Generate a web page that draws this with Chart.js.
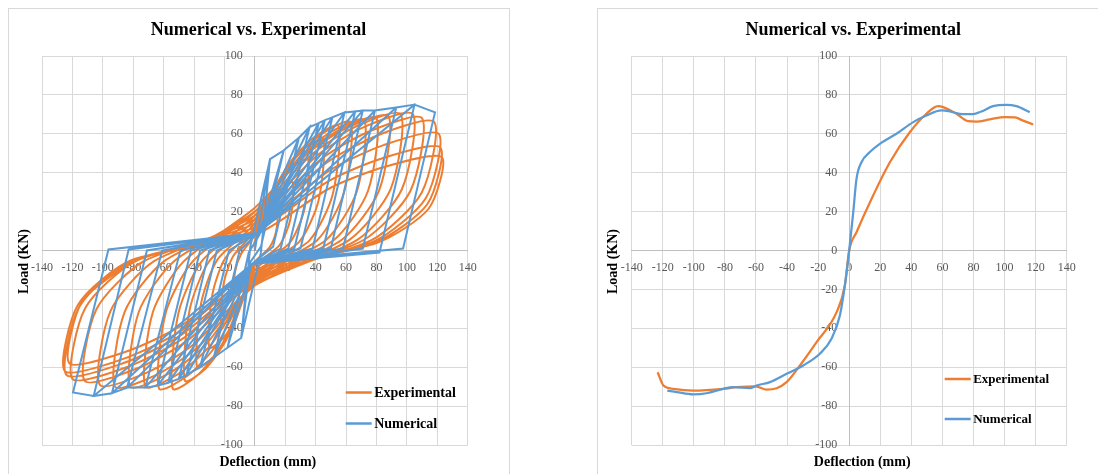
<!DOCTYPE html>
<html>
<head>
<meta charset="utf-8">
<title>Numerical vs. Experimental</title>
<script src="https://cdn.jsdelivr.net/npm/chart.js@4.4.1/dist/chart.umd.min.js"></script>
<style>
  body { margin: 0; background: #fff; width: 1098px; height: 474px; overflow: hidden; position: relative; }
  .frame { position: absolute; top: 8px; height: 500px; border: 1px solid #d9d9d9; box-sizing: border-box; }
  .box { position: absolute; top: 0; width: 549px; height: 474px; }
</style>
</head>
<body>
<div class="frame" style="left:8px;width:502px"></div>
<div class="frame" style="left:597px;width:520px"></div>
<div class="box" style="left:0"><canvas id="hysteresis"></canvas></div>
<div class="box" style="left:549px"><canvas id="envelope"></canvas></div>

<script>
// --- data: [deflection mm, load kN] ---
const xTicks = { min: -140, max: 140, step: 20 };
const yTicks = { min: -100, max: 100, step: 20 };
const seriesNames = ["Experimental", "Numerical"];

// numerical hysteresis (piecewise linear model)
const numHysteresis = [
  [0,0],[10,47],[-3,2],[-9,-45],[4,-1],
  [10,47],[19,51.5],[4,2],[-3,-6],[-9,-45],[-18,-50],[-4,-1],[3,8],
  [19,51.5],[29,58],[12,2],[-2,-7],[-18,-50],[-27,-55],[-10,0],[2,9],
  [29,58],[36,63.5],[17,1],[-2,-7],[-27,-55],[-36,-60],[-17,0],[2,9],
  [36,63.5],[42,65.5],[22,1],[-2,-7],[-36,-60],[-45,-64],[-25,0],[2,9],
  [42,65.5],[46,67],[26,1],[-2,-7],[-45,-64],[-50,-66],[-30,0],[2,9],
  [46,67],[51,68.5],[30,1],[-2,-7],[-50,-66],[-57,-68],[-36,0],[2,9],
  [51,68.5],[59,71],[38,1],[-2,-7],[-57,-68],[-64,-69.5],[-42,0],[2,9],
  [59,71],[66,71.5],[45,1],[-2,-7],[-64,-69.5],[-72,-70.5],[-49,0],[2,9],
  [66,71.5],[71,72],[50,1],[-2,-7],[-72,-70.5],[-84,-70.5],[-61,0],[2,9],
  [71,72],[79,72],[58,1],[-2,-7],[-84,-70.5],[-94,-73.4],[-71,0],[2,9],
  [79,72],[93,73.5],[71,1],[-2,-7],[-94,-73.4],[-106,-74.8],[-83,0.5],[2,9],
  [93,73.5],[105,75],[82,-1],[-2,-7],[-106,-74.8],[-119.6,-73],[-96.3,0.5],[2,9],
  [105,75],[118.5,71],[97.5,1],[0,-6]
];

// experimental hysteresis (test loops)
const expHysteresis = [
  [0,0],
  [0,5],[6,15.2],[10.5,20],[15,22],[14,9.9],[9.8,1.8],[0,-6],[-5.6,-16.8],[-9.8,-21.8],[-14,-24],[-13,-10.8],[-9.1,-1.9],
  [0,8],[10,24.2],[17.5,31.8],[25,35],[23.3,15.8],[16.3,2.8],[0,-8],[-8.8,-26],[-15.4,-34.4],[-22,-38],[-20.5,-17.1],[-14.3,-3],
  [0,10],[14,32.2],[24.5,42.6],[35,47],[32.6,21.2],[22.8,3.8],[0,-10],[-12,-34],[-21,-45.2],[-30,-50],[-27.9,-22.5],[-19.5,-4],
  [0,12],[18,39],[31.5,51.6],[45,57],[41.9,25.7],[29.3,4.6],[0,-12],[-15.2,-40.8],[-26.6,-54.2],[-38,-60],[-35.3,-27],[-24.7,-4.8],
  [0,14],[22,44],[38.5,58],[55,64],[51.2,28.8],[35.8,5.1],[0,-13],[-18.4,-45.4],[-32.2,-60.5],[-46,-67],[-42.8,-30.2],[-29.9,-5.4],
  [0,16],[25.2,46],[44.1,60],[63,66],[58.6,29.7],[41,5.3],[0,-14],[-21.6,-48.2],[-37.8,-64.2],[-54,-71],[-50.2,-32],[-35.1,-5.7],
  [0,18],[28.8,47.4],[50.4,61.1],[72,67],[67,30.2],[46.8,5.4],[0,-15],[-25.2,-48.6],[-44.1,-64.3],[-63,-71],[-58.6,-32],[-41,-5.7],
  [0,20],[32,48.8],[56,62.2],[80,68],[74.4,30.6],[52,5.4],[0,-16],[-28.8,-48.4],[-50.4,-63.5],[-72,-70],[-67,-31.5],[-46.8,-5.6],
  [0,22],[35.2,50.2],[61.6,63.4],[88,69],[81.8,31],[57.2,5.5],[0,-17],[-32.8,-48.8],[-57.4,-63.6],[-82,-70],[-76.3,-31.5],[-53.3,-5.6],
  [0,20],[38.4,50],[67.2,64],[96,70],[89.3,31.5],[62.4,5.6],[0,-18],[-36.8,-49.2],[-64.4,-63.8],[-92,-70],[-85.6,-31.5],[-59.8,-5.6],
  [0,18],[41.6,49.2],[72.8,63.8],[104,70],[96.7,31.5],[67.6,5.6],[0,-18],[-40.8,-48.6],[-71.4,-62.9],[-102,-69],[-94.9,-31],[-66.3,-5.5],
  [0,16],[44,47.2],[77,61.8],[110,68],[102.3,30.6],[71.5,5.4],[0,-16],[-44.8,-46.6],[-78.4,-60.9],[-112,-67],[-104.2,-30.2],[-72.8,-5.4],
  [0,14],[47.2,45.2],[82.6,59.8],[118,66],[109.7,29.7],[76.7,5.3],[0,-15],[-48,-45.6],[-84,-59.9],[-120,-66],[-111.6,-29.7],[-78,-5.3],
  [0,12],[48.4,40.8],[84.7,54.2],[121,60],[112.5,27],[78.7,4.8],[0,-14],[-49.6,-44],[-86.8,-58],[-124,-64],[-115.3,-28.8],[-80.6,-5.1],
  [0,10],[48.8,35.8],[85.4,47.8],[122,53],[113.5,23.9],[79.3,4.2],[0,-12],[-50,-42],[-87.5,-56],[-125,-62],[-116.3,-27.9],[-81.3,-5],
  [0,8],[49.2,32],[86.1,43.2],[123,48],[114.4,21.6],[80,3.8],[0,-10],[-48.8,-38.8],[-85.4,-52.2],[-122,-58],[-113.5,-26.1],[-79.3,-4.6]
];

// envelope (backbone) curves
const expEnvelope = [
  [-123.3,-62.6],[-119.6,-69.4],[-113.2,-71.1],[-100.3,-72],[-81,-71.1],[-72.5,-70.3],[-60.2,-69.8],
  [-53.2,-71.5],[-46.7,-70.8],[-40.3,-67.7],[-31.7,-59.1],[-21,-47.1],[-8.1,-31.7],[-2.8,-18],[0,0],
  [4.7,9.4],[15.4,28.3],[26.2,45.4],[39,60.8],[49.7,70.3],[57.2,74.2],[60.5,73.7],[69,70.3],[76.5,66.5],
  [81.9,66.3],[90.5,67.4],[100.1,68.6],[106.6,68.4],[111.9,66.8],[118.4,64.8]
];
const numEnvelope = [
  [-117.1,-72],[-111,-72.8],[-100.3,-74],[-91.8,-73.4],[-81,-71.1],[-74.6,-70.3],[-63.9,-70.8],[-59.6,-69.4],
  [-51,-67.7],[-40.3,-63.4],[-29.6,-59.1],[-18.9,-53.1],[-11.4,-45.4],[-6,-33.4],[-2.8,-18],[0,0],
  [2.6,19.7],[4.7,36.8],[7.9,45.4],[13.3,50.6],[19.7,54.8],[30.4,60],[41.2,66],[49.7,69.4],[59.4,72],
  [64.8,71.5],[71.2,70.3],[79.8,70.1],[85.1,71.5],[92.6,74.2],[101.2,74.9],[107.6,74.2],[116.2,71.1]
];

const ORANGE = "#ED7D31";
const BLUE = "#5B9BD5";
const SERIF = "'Liberation Serif', 'Times New Roman', serif";

const toPoints = (pairs) => pairs.map(([x, y]) => ({ x, y }));

// titles, axis titles and the legend inside the plot area (Excel style)
const chartText = {
  id: "chartText",
  afterDraw(chart, args, opts) {
    const { ctx, chartArea: a } = chart;
    ctx.save();
    ctx.fillStyle = "#000";
    ctx.textBaseline = "middle";
    ctx.textAlign = "center";
    ctx.font = "bold 18px " + SERIF;
    ctx.fillText(opts.title, opts.titleX, 30);

    ctx.font = "bold 14px " + SERIF;
    ctx.fillText(opts.xTitle, (a.left + a.right) / 2 + 13, a.bottom + 17);
    ctx.save();
    ctx.translate(a.left - 18, (a.top + a.bottom) / 2 + 11);
    ctx.rotate(-Math.PI / 2);
    ctx.fillText(opts.yTitle, 0, 0);
    ctx.restore();

    // legend
    ctx.font = "bold " + opts.legendSize + "px " + SERIF;
    ctx.textAlign = "left";
    opts.legend.forEach((item) => {
      const y = a.bottom - item.up;
      ctx.strokeStyle = item.color;
      ctx.lineWidth = 2.5;
      ctx.beginPath();
      ctx.moveTo(a.right - 122, y);
      ctx.lineTo(a.right - 96, y);
      ctx.stroke();
      ctx.fillText(item.label, a.right - 93.5, y + 1);
    });
    ctx.restore();
  }
};

function scales() {
  const tickFont = { family: SERIF, size: 12 };
  return {
    x: {
      type: "linear",
      position: { y: 0 },
      min: xTicks.min, max: xTicks.max,
      ticks: { stepSize: xTicks.step, font: tickFont, color: "#595959", padding: 10, maxRotation: 0, autoSkip: false },
      grid: { color: "#d9d9d9", lineWidth: 1, drawTicks: false },
      border: { color: "#bfbfbf", width: 1 }
    },
    y: {
      type: "linear",
      position: { x: 0 },
      min: yTicks.min, max: yTicks.max,
      // labels of an axis placed at x = 0 get no padding, so leave a gap with two en spaces
      ticks: { stepSize: yTicks.step, font: tickFont, color: "#595959", autoSkip: false,
               callback: (v) => v + "\u2002\u2002" },
      grid: { color: "#d9d9d9", lineWidth: 1, drawTicks: false },
      border: { color: "#bfbfbf", width: 1 }
    }
  };
}

// left: hysteresis loops
new Chart(document.getElementById("hysteresis"), {
  type: "scatter",
  data: {
    datasets: [
      { label: seriesNames[1], data: toPoints(numHysteresis), showLine: true, borderColor: BLUE,
        borderWidth: 2, pointRadius: 0, tension: 0 },
      { label: seriesNames[0], data: toPoints(expHysteresis), showLine: true, borderColor: ORANGE,
        borderWidth: 2, pointRadius: 0, tension: 0.25 }
    ]
  },
  options: {
    responsive: true,
    maintainAspectRatio: false,
    animation: false,
    layout: { padding: { left: 42, right: 81.3, top: 56, bottom: 29 } },
    scales: scales(),
    plugins: {
      legend: { display: false },
      tooltip: { enabled: false },
      chartText: {
        title: "Numerical vs. Experimental", titleX: 258.5,
        xTitle: "Deflection (mm)", yTitle: "Load (KN)", legendSize: 14,
        legend: [
          { label: seriesNames[0], color: ORANGE, up: 52.5 },
          { label: seriesNames[1], color: BLUE, up: 21.5 }
        ]
      }
    }
  },
  plugins: [chartText]
});

// right: envelope curves
new Chart(document.getElementById("envelope"), {
  type: "scatter",
  data: {
    datasets: [
      { label: seriesNames[1], data: toPoints(numEnvelope), showLine: true, borderColor: BLUE,
        borderWidth: 2.25, pointRadius: 0, cubicInterpolationMode: "monotone" },
      { label: seriesNames[0], data: toPoints(expEnvelope), showLine: true, borderColor: ORANGE,
        borderWidth: 2.25, pointRadius: 0, cubicInterpolationMode: "monotone" }
    ]
  },
  options: {
    responsive: true,
    maintainAspectRatio: false,
    animation: false,
    layout: { padding: { left: 82.7, right: 31.3, top: 56, bottom: 29 } },
    scales: scales(),
    plugins: {
      legend: { display: false },
      tooltip: { enabled: false },
      chartText: {
        title: "Numerical vs. Experimental", titleX: 304.3,
        xTitle: "Deflection (mm)", yTitle: "Load (KN)", legendSize: 13,
        legend: [
          { label: seriesNames[0], color: ORANGE, up: 66 },
          { label: seriesNames[1], color: BLUE, up: 26 }
        ]
      }
    }
  },
  plugins: [chartText]
});
</script>
</body>
</html>
